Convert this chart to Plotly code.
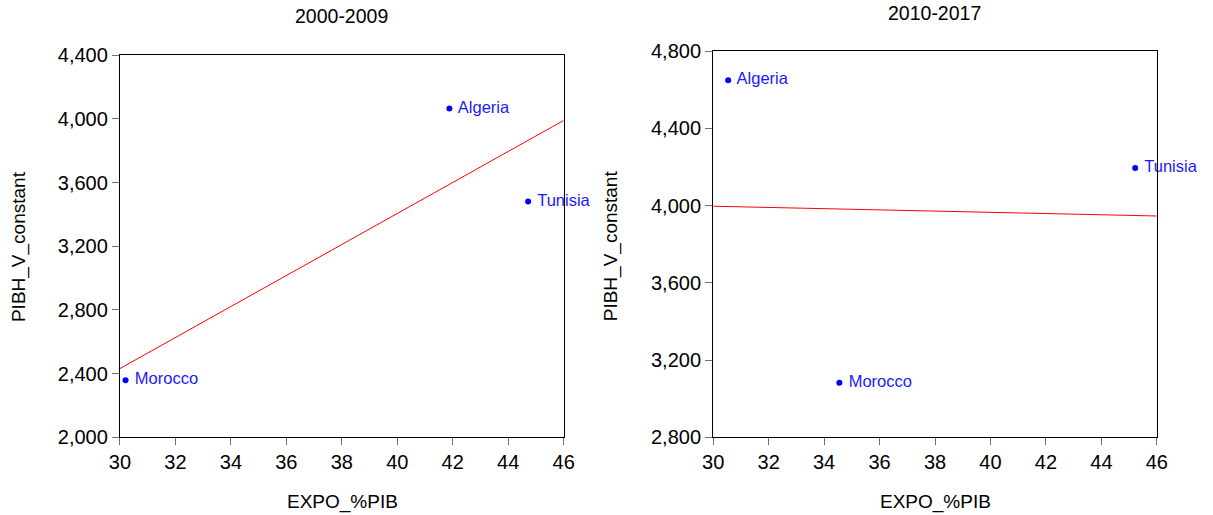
import numpy as np
import plotly.graph_objects as go

countries = ["Algeria", "Tunisia", "Morocco"]

# 2000-2009 averages
expo_0009 = [41.88, 44.72, 30.20]
pibh_0009 = [4066, 3482, 2358]

# 2010-2017 averages
expo_1017 = [30.54, 45.22, 34.55]
pibh_1017 = [4650, 4195, 3082]

x_ticks = [30, 32, 34, 36, 38, 40, 42, 44, 46]
y_ticks_0009 = [2000, 2400, 2800, 3200, 3600, 4000, 4400]
y_ticks_1017 = [2800, 3200, 3600, 4000, 4400, 4800]

BODY = 8  # default html body margin around the figure
W, H = 1197, 530
FONT = "Liberation Sans, Arial, sans-serif"

# screen position -> page position (the page is shown slightly reduced)
SX, BX = 0.9846, 1.8
SY, BY = 0.956, 3.2


def px(x):
    return ((x - BX) / SX - BODY) / W


def py(y):
    return 1 - ((y - BY) / SY - BODY) / H


fig = go.Figure()


def add_panel(xs, ys, xa, ya):
    slope, intercept = np.polyfit(xs, ys, 1)
    lx = np.array([30, 46])
    fig.add_trace(go.Scatter(
        x=lx, y=slope * lx + intercept, mode="lines",
        line=dict(color="#ff0000", width=1), xaxis=xa, yaxis=ya,
        showlegend=False, hoverinfo="skip"))
    fig.add_trace(go.Scatter(
        x=xs, y=ys, mode="markers+text", text=[" " + c for c in countries],
        textposition="middle right",
        textfont=dict(family=FONT, size=16.5, color="#1a1aff"),
        marker=dict(color="#0000ff", size=6),
        cliponaxis=False, xaxis=xa, yaxis=ya, showlegend=False))


add_panel(expo_0009, pibh_0009, "x", "y")
add_panel(expo_1017, pibh_1017, "x2", "y2")

axis_common = dict(
    showgrid=False, zeroline=False, showline=True, linecolor="black",
    linewidth=1.3, mirror=True, ticks="outside", ticklen=7,
    tickcolor="#707070", tickwidth=1.3,
    tickfont=dict(family=FONT, size=20, color="black"),
)

fig.update_layout(
    width=W, height=H, margin=dict(l=0, r=0, t=0, b=0),
    paper_bgcolor="white", plot_bgcolor="white",
    xaxis=dict(domain=[px(119), px(564)], range=[30, 46], tickvals=x_ticks,
               anchor="y", **axis_common),
    yaxis=dict(domain=[py(436), py(55)], range=[2000, 4400],
               tickvals=y_ticks_0009, tickformat=",", anchor="x",
               **axis_common),
    xaxis2=dict(domain=[px(714), px(1159)], range=[30, 46], tickvals=x_ticks,
                anchor="y2", **axis_common),
    yaxis2=dict(domain=[py(436), py(51)], range=[2800, 4800],
                tickvals=y_ticks_1017, tickformat=",", anchor="x2",
                **axis_common),
)

title_font = dict(family=FONT, size=19.5, color="black")
label_font = dict(family=FONT, size=19, color="black")

annotations = [
    dict(text="2000-2009", x=px(341), y=py(16), font=title_font),
    dict(text="2010-2017", x=px(936), y=py(13), font=title_font),
    dict(text="EXPO_%PIB", x=px(342), y=py(501), font=label_font),
    dict(text="EXPO_%PIB", x=px(937), y=py(501), font=label_font),
    dict(text="PIBH_V_constant", x=px(17), y=py(246), textangle=-90,
         font=label_font),
    dict(text="PIBH_V_constant", x=px(611), y=py(245), textangle=-90,
         font=label_font),
]
for a in annotations:
    fig.add_annotation(xref="paper", yref="paper", showarrow=False,
                       xanchor="center", yanchor="middle", **a)

fig.write_html("out.html")
